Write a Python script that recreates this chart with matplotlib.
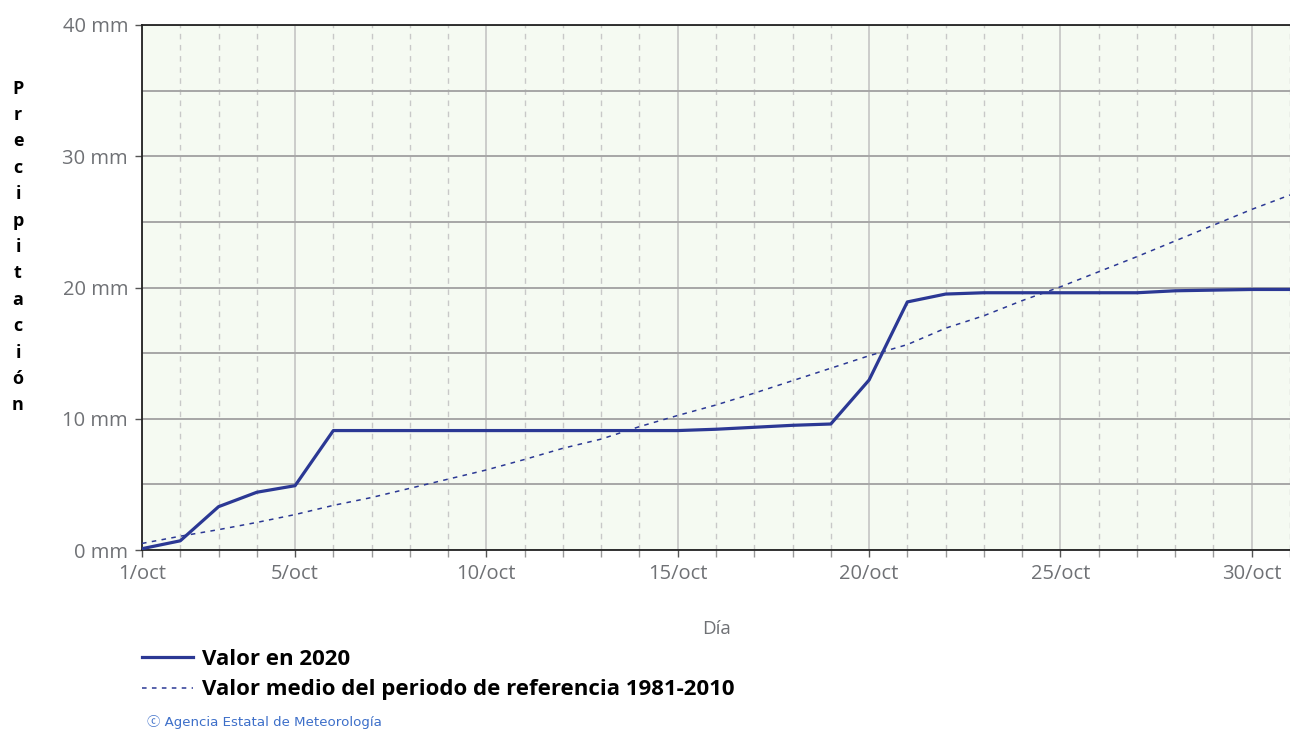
import numpy as np
import matplotlib.pyplot as plt
from matplotlib.ticker import MultipleLocator, FixedLocator

# Datos (precipitacion acumulada, mm)
dias = np.arange(1, 32)
valor_2020 = [0.1, 0.7, 3.3, 4.4, 4.9, 9.1, 9.1, 9.1, 9.1, 9.1,
              9.1, 9.1, 9.1, 9.1, 9.1, 9.2, 9.35, 9.5, 9.6, 12.95,
              18.9, 19.5, 19.6, 19.6, 19.6, 19.6, 19.6, 19.75, 19.8, 19.85,
              19.85]
valor_medio = [0.5, 1.05, 1.55, 2.1, 2.7, 3.4, 4.0, 4.7, 5.4, 6.1,
               6.9, 7.75, 8.45, 9.4, 10.25, 11.05, 11.95, 12.9, 13.85, 14.8,
               15.65, 16.9, 17.85, 19.0, 20.05, 21.2, 22.35, 23.55, 24.75, 25.95,
               27.05]
dias_etiqueta = [1, 5, 10, 15, 20, 25, 30]
etiquetas_x = ["%d/oct" % d for d in dias_etiqueta]
valores_y = [0, 10, 20, 30, 40]
etiquetas_y = ["%d mm" % v for v in valores_y]

azul = "#2b3894"
gris_texto = "#6f7175"

fig = plt.figure(figsize=(12.9, 7.31), dpi=100)
ax = fig.add_axes([142 / 1290, 181 / 731, 1148 / 1290, 525 / 731])
ax.set_facecolor("#f5faf2")

ax.plot(dias, valor_2020, color=azul, lw=2.3, solid_joinstyle="round",
        label="Valor en 2020", zorder=4)
ax.plot(dias, valor_medio, color=azul, lw=1.1, dashes=(3, 3.5),
        label="Valor medio del periodo de referencia 1981-2010", zorder=3)

ax.set_xlim(1, 31)
ax.set_ylim(0, 40)

ax.xaxis.set_major_locator(FixedLocator(dias_etiqueta))
ax.xaxis.set_minor_locator(FixedLocator([d for d in dias if d not in dias_etiqueta]))
ax.set_xticklabels(etiquetas_x)
ax.yaxis.set_major_locator(FixedLocator(valores_y))
ax.yaxis.set_minor_locator(MultipleLocator(5))
ax.set_yticklabels(etiquetas_y)

# rejilla
ax.grid(which="major", axis="x", color="#c4c4c4", lw=1.2)
ax.grid(which="minor", axis="x", color="#c8c8c8", lw=1.0, ls=(0, (4, 4)))
ax.grid(which="both", axis="y", color="#a6a6a6", lw=1.4)
ax.set_axisbelow(True)

for lado in ["left", "bottom", "top"]:
    ax.spines[lado].set_color("#222222")
    ax.spines[lado].set_linewidth(1.3)
ax.spines["right"].set_visible(False)

ax.tick_params(axis="both", which="major", labelsize=14.5, labelcolor=gris_texto,
               color="#555555", length=5, width=1)
ax.tick_params(axis="x", which="major", pad=5)
ax.tick_params(axis="y", which="major", pad=5)
ax.tick_params(axis="x", which="minor", color="#999999", length=5, width=1)
ax.tick_params(axis="y", which="minor", length=0)
for t in ax.get_xticklabels() + ax.get_yticklabels():
    t.set_family("Open Sans")

ax.set_xlabel("Día", fontsize=13.5, color=gris_texto, family="Open Sans", labelpad=26)

fig.text(18 / 1290, 1 - 247 / 731, "\n".join("Precipitación"), ha="center", va="center",
         fontsize=13, fontweight="bold", family="Open Sans", linespacing=1.6)

leg = fig.legend(loc="upper left", bbox_to_anchor=(142 / 1290, 1 - 649 / 731),
                 frameon=False, borderpad=0, borderaxespad=0,
                 handlelength=2.3, handletextpad=0.38, labelspacing=0.42,
                 prop={"family": "Open Sans", "weight": "bold", "size": 16})

fig.text(147 / 1290, 1 - 722 / 731, "ⓒ Agencia Estatal de Meteorología", fontsize=9.6,
         color="#3d6fc9", va="center", family=["DejaVu Sans", "Noto Sans CJK SC"])

fig.savefig("out.png", dpi=100)
